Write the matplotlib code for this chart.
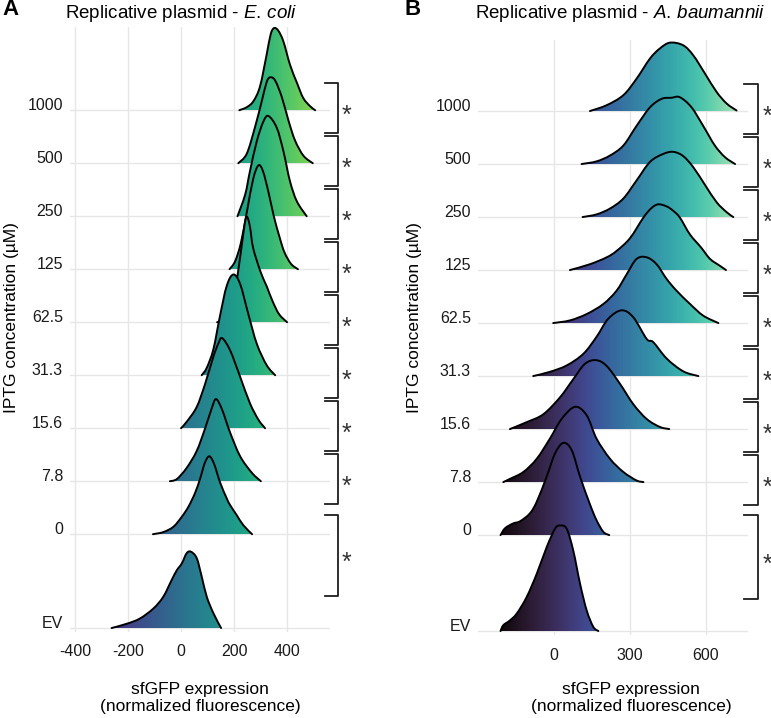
import numpy as np
import matplotlib
matplotlib.use('Agg')
import matplotlib.pyplot as plt
import seaborn as sns  # registers the "mako" colormap
from matplotlib.patches import PathPatch
from matplotlib.path import Path
from matplotlib.colors import Normalize

plt.rcParams['font.family'] = ['Liberation Sans', 'DejaVu Sans']
plt.rcParams['mathtext.fontset'] = 'custom'
plt.rcParams['mathtext.rm'] = 'Liberation Sans'
plt.rcParams['mathtext.it'] = 'Liberation Sans:italic'

levels = ['EV', '0', '7.8', '15.6', '31.3', '62.5', '125', '250', '500', '1000']

# ridge outlines: x = sfGFP value, h = density height (in row units)
ecoli_x = [
    [-262, -205, -155, -104, -67, -35, -16, 3, 21, 37, 59, 78, 97, 122, 151],
    [-106, -67, -29, 3, 28, 53, 72, 90, 107, 125, 147, 172, 185, 210, 235, 268],
    [-42, -16, 21, 59, 91, 116, 132, 154, 185, 223, 267, 301],
    [0, 21, 59, 91, 122, 141, 155, 185, 223, 260, 292, 317],
    [78, 97, 122, 147, 172, 197, 223, 254, 286, 323, 355],
    [136, 170, 200, 225, 240, 249, 260, 272, 300, 323, 345, 370, 400],
    [183, 204, 226, 249, 272, 292, 309, 330, 350, 372, 390, 415, 441],
    [213, 242, 260, 286, 311, 330, 361, 386, 411, 437, 474],
    [216, 248, 279, 305, 323, 336, 355, 380, 405, 430, 462, 497],
    [220, 248, 273, 298, 323, 338, 351, 367, 386, 411, 437, 461, 487, 506],
]
ecoli_h = [
    [0, 0.08, 0.18, 0.37, 0.59, 0.91, 1.09, 1.22, 1.41, 1.44, 1.32, 0.97, 0.59, 0.28, 0],
    [0, 0.04, 0.14, 0.33, 0.52, 0.78, 1.05, 1.35, 1.47, 1.32, 0.98, 0.68, 0.55, 0.36, 0.17, 0],
    [0, 0.04, 0.25, 0.57, 1.0, 1.38, 1.55, 1.36, 0.92, 0.47, 0.16, 0],
    [0, 0.12, 0.4, 0.84, 1.35, 1.6, 1.7, 1.47, 0.97, 0.47, 0.16, 0],
    [0, 0.14, 0.49, 1.12, 1.68, 1.9, 1.72, 1.15, 0.59, 0.19, 0],
    [0, 0.1, 0.5, 1.3, 1.85, 1.99, 1.8, 1.4, 0.95, 0.68, 0.4, 0.15, 0],
    [0, 0.15, 0.5, 1.1, 1.7, 1.96, 1.85, 1.45, 1.0, 0.6, 0.32, 0.1, 0],
    [0, 0.41, 0.85, 1.42, 1.79, 1.89, 1.67, 1.23, 0.66, 0.28, 0],
    [0, 0.18, 0.68, 1.18, 1.53, 1.62, 1.56, 1.25, 0.81, 0.43, 0.14, 0],
    [0, 0.057, 0.17, 0.45, 1.05, 1.43, 1.55, 1.50, 1.30, 0.86, 0.52, 0.23, 0.075, 0],
]

abau_x = [
    [-211, -200, -174, -147, -108, -68, -29, 4, 24, 50, 76, 103, 129, 155, 175],
    [-211, -193, -161, -134, -95, -68, -29, 4, 37, 70, 103, 142, 168, 195, 218],
    [-200, -174, -121, -68, -16, 30, 83, 129, 168, 221, 274, 326, 353],
    [-174, -108, -42, 24, 76, 122, 166, 208, 261, 313, 366, 418, 455],
    [-82, -16, 50, 116, 168, 214, 267, 313, 366, 392, 445, 510, 570],
    [-3, 63, 129, 195, 247, 287, 326, 366, 405, 445, 484, 537, 589, 649],
    [63, 142, 208, 247, 300, 353, 385, 412, 445, 470, 497, 537, 580, 616, 655, 679],
    [113, 168, 221, 274, 326, 379, 431, 471, 510, 550, 597, 642, 682, 708],
    [109, 168, 221, 274, 326, 379, 425, 464, 497, 543, 589, 635, 675, 715],
    [142, 208, 274, 326, 379, 418, 458, 510, 550, 597, 642, 682, 721],
]
abau_h = [
    [0, 0.11, 0.2, 0.33, 0.64, 1.08, 1.58, 1.93, 1.99, 1.93, 1.52, 0.89, 0.39, 0.08, 0],
    [0, 0.13, 0.22, 0.26, 0.41, 0.63, 1.1, 1.54, 1.74, 1.6, 1.1, 0.58, 0.28, 0.06, 0],
    [0, 0.06, 0.19, 0.44, 0.82, 1.19, 1.42, 1.26, 0.82, 0.44, 0.19, 0.03, 0],
    [0, 0.13, 0.28, 0.6, 0.94, 1.23, 1.3, 1.19, 0.85, 0.47, 0.19, 0.04, 0],
    [0, 0.08, 0.2, 0.42, 0.74, 1.08, 1.24, 1.11, 0.70, 0.64, 0.33, 0.09, 0],
    [0, 0.05, 0.17, 0.36, 0.61, 0.92, 1.21, 1.24, 1.11, 0.83, 0.61, 0.36, 0.14, 0],
    [0, 0.11, 0.24, 0.36, 0.6, 0.99, 1.17, 1.24, 1.2, 1.12, 0.99, 0.67, 0.43, 0.21, 0.08, 0],
    [0, 0.05, 0.16, 0.35, 0.69, 1.04, 1.19, 1.23, 1.15, 0.94, 0.60, 0.28, 0.09, 0],
    [0, 0.05, 0.16, 0.35, 0.72, 1.07, 1.23, 1.25, 1.26, 1.07, 0.72, 0.35, 0.13, 0],
    [0, 0.11, 0.30, 0.61, 0.99, 1.18, 1.29, 1.24, 1.05, 0.70, 0.36, 0.14, 0.01],
]

ecoli_ticks = [-400, -200, 0, 200, 400]
abau_ticks = [0, 300, 600]

W, H = 771, 718
fig = plt.figure(figsize=(W / 100, H / 100), dpi=100)
axA = fig.add_axes([70 / W, 1 - 632 / H, 260 / W, 605 / H])
axB = fig.add_axes([478 / W, 1 - 635 / H, 270 / W, 595 / H])


def smooth_path(x, y, base, close):
    # bezier curve through the read points (catmull-rom control points)
    pts = np.column_stack([x, y])
    ext = np.vstack([pts[0], pts, pts[-1]])
    verts = [tuple(pts[0])]
    codes = [Path.MOVETO]
    for i in range(len(pts) - 1):
        p0, p1, p2, p3 = ext[i], ext[i + 1], ext[i + 2], ext[i + 3]
        c1 = p1 + (p2 - p0) / 6
        c2 = p2 - (p3 - p1) / 6
        c1[1] = max(c1[1], base)
        c2[1] = max(c2[1], base)
        verts += [tuple(c1), tuple(c2), tuple(p2)]
        codes += [Path.CURVE4] * 3
    if close:
        verts += [(x[-1], base), (x[0], base), (x[0], base)]
        codes += [Path.LINETO, Path.LINETO, Path.CLOSEPOLY]
    return Path(verts, codes)


def ridges(ax, xs, hs, gap, cmap, norm):
    pos = [0] + [gap + i for i in range(len(levels) - 1)]
    for i in reversed(range(len(levels))):
        x = np.array(xs[i], float)
        h = np.array(hs[i], float)
        b = pos[i]
        z = 10 + (len(levels) - i)
        clip = PathPatch(smooth_path(x, b + h, b, True), facecolor='none', edgecolor='none')
        ax.add_patch(clip)
        grad = np.linspace(x[0], x[-1], 256).reshape(1, -1)
        im = ax.imshow(grad, extent=(x[0], x[-1], b, b + h.max() * 1.1), origin='lower',
                       aspect='auto', cmap=cmap, norm=norm, zorder=z, interpolation='bilinear')
        im.set_clip_path(clip)
        ax.add_patch(PathPatch(smooth_path(x, b + h, b, False), fill=False, edgecolor='black',
                               lw=1.4, zorder=z + 0.5, capstyle='round', joinstyle='round'))
    return pos


def brackets(ax, pos, x0, x1, xstar):
    spans = [(pos[i] - 0.43, pos[i] + 0.51) for i in range(2, len(levels))]
    spans.append((pos[0] + 0.6, pos[1] + 0.37))
    for lo, hi in spans:
        ax.plot([x0, x1, x1, x0], [hi, hi, lo, lo], color='#1e1e1e', lw=1.3,
                clip_on=False, zorder=30)
        ax.annotate('*', xy=(xstar, (lo + hi) / 2), xytext=(0, -0.59 * 18),
                    textcoords='offset points', ha='center', va='baseline',
                    fontsize=18, color='#333333', annotation_clip=False)


def style(ax, pos, ticks, xlim, ylim):
    ax.set_xlim(*xlim)
    ax.set_ylim(*ylim)
    ax.set_xticks(ticks)
    ax.set_xticklabels([str(t) for t in ticks])
    ax.set_yticks(pos)
    ax.set_yticklabels(levels)
    for lab in ax.get_yticklabels():
        lab.set_verticalalignment('baseline')
    ax.tick_params(axis='both', length=0, labelsize=11.5, colors='#1a1a1a')
    ax.tick_params(axis='x', pad=9)
    ax.tick_params(axis='y', pad=5)
    for s in ax.spines.values():
        s.set_visible(False)
    ax.grid(True, color='#e6e6e6', lw=1.0)
    ax.set_axisbelow(True)


posA = ridges(axA, ecoli_x, ecoli_h, 1.77, plt.get_cmap('viridis'), Normalize(-420, 710))
posB = ridges(axB, abau_x, abau_h, 1.81, plt.get_cmap('mako'), Normalize(-230, 830))
style(axA, posA, ecoli_ticks, (-419, 562), (-0.075, 11.34))
style(axB, posB, abau_ticks, (-300, 766), (-0.075, 11.15))
brackets(axA, posA, 543, 592, 626)
brackets(axB, posB, 750, 805, 841)

fig.text(2 / W, 1 - 15 / H, 'A', fontsize=16, fontweight='bold', va='baseline')
fig.text(405 / W, 1 - 15 / H, 'B', fontsize=16, fontweight='bold', va='baseline')
fig.text(65 / W, 1 - 18 / H, r'Replicative plasmid - $\mathit{E.\,coli}$', fontsize=13.5, va='baseline')
fig.text(475 / W, 1 - 18 / H, r'Replicative plasmid - $\mathit{A.\,baumannii}$', fontsize=13.5, va='baseline')
for xc in (12, 415):
    fig.text(xc / W, 1 - 318 / H, 'IPTG concentration (µM)', rotation=90,
             ha='center', va='center', fontsize=12.5)
for xc in (200, 631):
    fig.text(xc / W, 1 - 698 / H, 'sfGFP expression\n(normalized fluorescence)',
             ha='center', va='center', fontsize=12.5, linespacing=1.15)

fig.savefig('out.png', dpi=100)
